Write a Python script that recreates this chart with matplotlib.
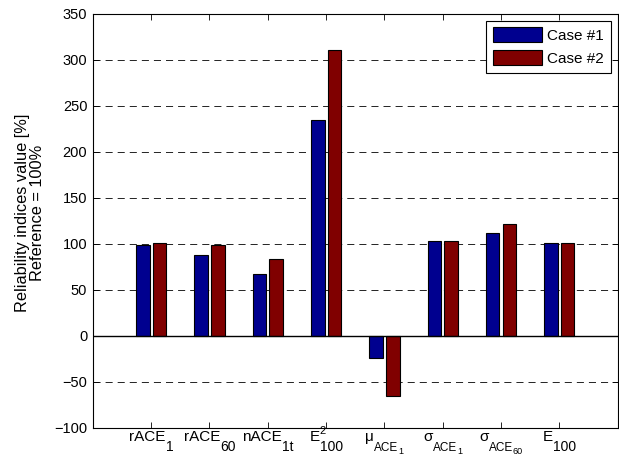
import matplotlib
matplotlib.use("Agg")
import matplotlib.pyplot as plt
import numpy as np

plt.rcParams['font.family'] = ['Liberation Sans', 'DejaVu Sans']

# Category labels, each built from (text, style) pieces
label_parts = [
    [('rACE', 'main'), ('1', 'sub')],
    [('rACE', 'main'), ('60', 'sub')],
    [('nACE', 'main'), ('1t', 'sub')],
    [('E', 'main'), ('2', 'sup'), ('100', 'sub')],
    [('\u03bc', 'main'), ('ACE', 'gsub'), ('1', 'gsubsub')],
    [('\u03c3', 'main'), ('ACE', 'gsub'), ('1', 'gsubsub')],
    [('\u03c3', 'main'), ('ACE', 'gsub'), ('60', 'gsubsub')],
    [('E', 'main'), ('100', 'sub')],
]
case1 = [98.5, 88, 67, 235, -24, 102.5, 111.5, 101]
case2 = [101, 98.5, 83, 310.5, -66, 103.5, 121, 101]
series_names = ['Case #1', 'Case #2']
yticks = [-100, -50, 0, 50, 100, 150, 200, 250, 300, 350]

# piece style: (font size pt, baseline offset px below axes bottom,
#               kern px before the piece, advances x)
piece_style = {
    'main':    (11.0, -13.5, 0.0, True),
    'sub':     (10.0, -23.0, 0.0, True),
    'sup':     (8.0,  -6.5, 0.0, False),
    'gsub':    (8.5,  -23.0, 0.0, True),
    'gsubsub': (6.5,  -26.5, 0.0, True),
}

fig = plt.figure(figsize=(6.19, 4.57), dpi=100)
ax = fig.add_axes([0.150, 0.064, 0.848, 0.906])

x = np.arange(1, len(label_parts) + 1)
w = 0.23
off = 0.143
ax.bar(x - off, case1, w, color='#00008F', edgecolor='black', linewidth=0.8,
       label=series_names[0], zorder=3)
ax.bar(x + off, case2, w, color='#800000', edgecolor='black', linewidth=0.8,
       label=series_names[1], zorder=3)
ax.axhline(0, color='black', linewidth=1.0, zorder=4)

ax.set_xlim(0, 9)
ax.set_ylim(-100, 350)
ax.set_xticks(x)
ax.set_xticklabels([])
ax.set_yticks(yticks)
ax.tick_params(axis='both', direction='in', length=4, labelsize=10.5,
               top=True, right=True, width=0.6)
ax.tick_params(axis='y', pad=4)
ax.yaxis.grid(True, linestyle=(0, (8.5, 6)), color='black', linewidth=0.6)
ax.set_axisbelow(True)
for s in ax.spines.values():
    s.set_linewidth(0.8)

ax.set_ylabel('Reliability indices value [%]\nReference = 100%',
              fontsize=11.8, linespacing=1.02)
ax.yaxis.set_label_coords(-0.091, 0.52)

# compose category labels piece by piece
renderer = fig.canvas.get_renderer()
for xc, parts in zip(x, label_parts):
    widths = []
    for txt, st in parts:
        t = fig.text(0, 0, txt, fontsize=piece_style[st][0])
        widths.append(t.get_window_extent(renderer).width)
        t.remove()
    total = 0.0
    for (txt, st), wd in zip(parts, widths):
        size, dy, kern, adv = piece_style[st]
        if adv:
            total += wd + kern
    cur = -total / 2.0
    for (txt, st), wd in zip(parts, widths):
        size, dy, kern, adv = piece_style[st]
        ax.annotate(txt, xy=(xc, 0), xycoords=('data', 'axes fraction'),
                    xytext=(cur + kern, dy), textcoords='offset pixels',
                    ha='left', va='baseline', fontsize=size,
                    annotation_clip=False)
        if adv:
            cur += wd + kern

leg = ax.legend(loc='upper right', fontsize=11, fancybox=False,
                edgecolor='black', framealpha=1, handlelength=3.2,
                handleheight=1.05, borderaxespad=0.45, labelspacing=0.5,
                handletextpad=0.35, borderpad=0.45)
leg.get_frame().set_linewidth(0.8)

fig.savefig('out.png', dpi=100)
